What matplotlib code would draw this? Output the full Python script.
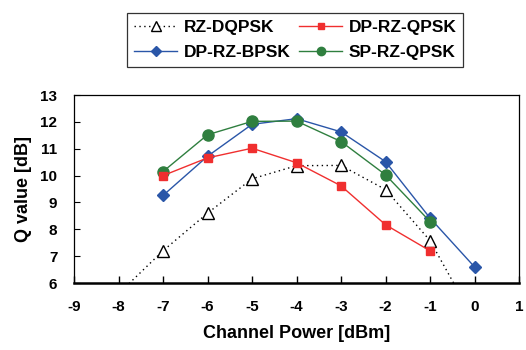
import matplotlib
matplotlib.use("Agg")
import matplotlib.pyplot as plt

plt.rcParams['font.family'] = ['Liberation Sans', 'DejaVu Sans']
plt.rcParams['font.weight'] = 'bold'
plt.rcParams['axes.unicode_minus'] = False

power_dq = [-8, -7, -6, -5, -4, -3, -2, -1, 0]
rz_dqpsk = [5.6, 7.2, 8.6, 9.88, 10.37, 10.38, 9.48, 7.58, 4.6]

power_q = [-7, -6, -5, -4, -3, -2, -1]
dp_rz_qpsk = [10.0, 10.66, 11.02, 10.48, 9.62, 8.17, 7.2]

power_b = [-7, -6, -5, -4, -3, -2, -1, 0]
dp_rz_bpsk = [9.26, 10.72, 11.91, 12.12, 11.63, 10.52, 8.42, 6.6]

power_s = [-7, -6, -5, -4, -3, -2, -1]
sp_rz_qpsk = [10.15, 11.52, 12.02, 12.03, 11.27, 10.03, 8.29]

xticks = [-9, -8, -7, -6, -5, -4, -3, -2, -1, 0, 1]
yticks = [6, 7, 8, 9, 10, 11, 12, 13]

fig = plt.figure(figsize=(5.26, 3.5), dpi=100)
ax = fig.add_axes([0.1407, 0.1914, 0.846, 0.537])

red = '#f02f2f'
blue = '#2a56a8'
green = '#2f7f3f'

l1, = ax.plot(power_dq, rz_dqpsk, linestyle=(0, (1, 2.5)), color='black', lw=1.0,
              marker='^', markersize=9, markerfacecolor='white', markeredgecolor='black',
              markeredgewidth=1.0, label='RZ-DQPSK')
l3, = ax.plot(power_b, dp_rz_bpsk, '-', color=blue, lw=1.0, marker='D', markersize=6.5,
              markerfacecolor=blue, markeredgecolor=blue, label='DP-RZ-BPSK')
l4, = ax.plot(power_s, sp_rz_qpsk, '-', color=green, lw=1.0, marker='o', markersize=8,
              markerfacecolor=green, markeredgecolor=green, label='SP-RZ-QPSK')
l2, = ax.plot(power_q, dp_rz_qpsk, '-', color=red, lw=1.0, marker='s', markersize=6,
              markerfacecolor=red, markeredgecolor=red, label='DP-RZ-QPSK')

ax.set_xlim(-9, 1)
ax.set_ylim(6, 13)
ax.set_xticks(xticks)
ax.set_yticks(yticks)
ax.tick_params(axis='x', direction='in', length=5, width=1, labelsize=11, pad=12)
ax.tick_params(axis='y', direction='in', length=4, width=0.8, labelsize=11, pad=12)
for lab in ax.get_xticklabels() + ax.get_yticklabels():
    lab.set_fontweight('bold')

for s in ['top', 'right', 'left']:
    ax.spines[s].set_linewidth(0.9)
ax.spines['bottom'].set_linewidth(1.8)

ax.set_xlabel('Channel Power [dBm]', fontsize=13, fontweight='bold', labelpad=8)
ax.set_ylabel('Q value [dB]', fontsize=13, fontweight='bold', labelpad=6)

leg = fig.legend(handles=[l1, l3, l2, l4],
                 labels=['RZ-DQPSK', 'DP-RZ-BPSK', 'DP-RZ-QPSK', 'SP-RZ-QPSK'],
                 ncol=2, loc='upper left', bbox_to_anchor=(0.2414, 0.963), borderaxespad=0,
                 frameon=True, fancybox=False, edgecolor='black', markerscale=0.75,
                 handlelength=2.5, columnspacing=0.5, borderpad=0.4, labelspacing=0.55,
                 handletextpad=0.35, prop={'weight': 'bold', 'size': 12.5})
leg.get_frame().set_linewidth(0.9)

fig.savefig('out.png', dpi=100)
